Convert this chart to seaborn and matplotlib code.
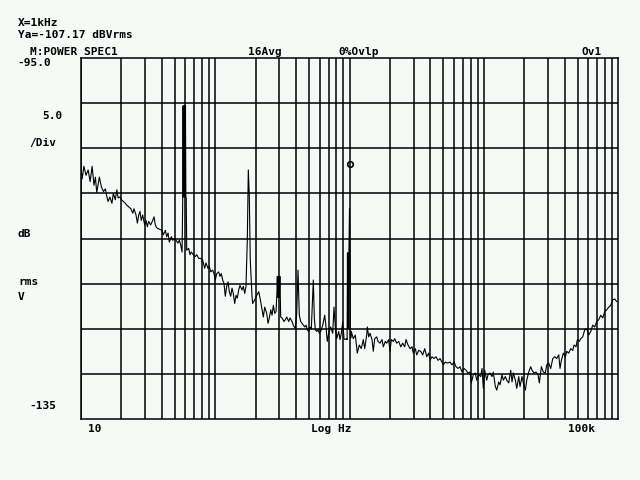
import numpy as np
import pandas as pd
import matplotlib
matplotlib.use('Agg')
import matplotlib.pyplot as plt
import seaborn as sns

# power spectrum trace (Hz, dBVrms)
freq_hz = [
    10.0, 10.2, 10.5, 10.9, 11.3, 11.7, 12.1, 12.5, 12.8, 13.1, 13.7, 14.2, 14.7, 15.2, 15.5, 15.9,
    16.4, 17.0, 17.4, 18.0, 18.5, 18.9, 19.5, 20.0, 20.7, 21.4, 21.9, 22.7, 23.5, 24.3, 24.8, 25.7,
    26.3, 26.9, 27.5, 28.1, 28.8, 29.8, 30.5, 31.2, 31.9, 33.0, 34.2, 35.0, 35.8, 36.6, 37.5, 38.8,
    40.1, 41.0, 42.5, 43.5, 44.5, 45.5, 47.1, 48.2, 49.9, 51.0, 52.8, 54.0, 55.3, 56.6,
    # 60 Hz line
    57.2, 57.6, 58.0, 58.4, 58.8, 59.2, 59.6, 60.0, 60.4, 60.8, 61.3,
    63.4, 64.9, 66.3, 68.6, 71.0, 72.8, 75.3, 77.9, 80.6, 83.4, 85.3, 88.3, 90.3, 92.5, 95.7, 97.9,
    100.1, 102.5, 106.1, 108.5, 110.9, 113.6, 116.2, 118.8, 121.7, 124.5, 127.3, 130.3, 133.3, 136.3,
    139.6, 142.8, 146.0, 149.5, 152.9, 158.2, 161.8, 165.7, 169.4,
    # 180 Hz line
    173.3, 176.3, 179.3, 182.4, 187.8,
    190.1, 196.8, 203.7, 210.8, 215.6, 223.1, 228.1, 233.6, 241.8, 247.2, 252.8, 259.0, 264.9, 270.8,
    277.4, 283.7,
    # 300 Hz line
    288.0, 290.0, 292.0, 294.0, 296.0, 298.0, 300.5, 303.0,
    307.2, 314.3, 325.3, 332.6, 340.7, 352.5, 360.5, 373.1, 381.4, 394.8, 404.4,
    413.5,
    422.8, 433.1, 442.9, 452.9, 463.9, 474.3, 485.1, 496.8, 508.1, 519.5,
    530.4, 537.7, 547.0,
    556.4, 569.9, 582.8, 596.0, 610.4, 631.7, 653.7, 668.3, 683.4, 699.9, 724.4, 749.7, 766.6, 784.0,
    803.0, 831.0, 849.8, 869.0, 890.1, 910.2, 930.7, 953.3,
    # 1 kHz line
    960.0, 966.0, 972.0, 978.0, 984.0, 990.0, 1000.0, 1008.0, 1015.0, 1022.0,
    1031, 1067, 1105, 1143, 1183, 1224, 1267, 1298, 1343, 1357, 1390, 1421, 1471, 1504, 1541, 1595,
    1631, 1688, 1746, 1786, 1848, 1893, 1959, 2003, 2048, 2120, 2171, 2247, 2326, 2407, 2491, 2578,
    2637, 2728, 2823, 2922, 2988, 3092, 3167, 3278, 3392, 3511, 3633, 3760, 3890, 3979, 4118, 4262,
    4411, 4564, 4723, 4888, 4998, 5172, 5353, 5607, 5802, 6004, 6214, 6430, 6654, 6886, 7129, 7379,
    7634, 7902, 8080, 8362, 8653, 8863, 9175, 9493, 9707, 9926, 10170, 10520, 10760, 11140, 11520,
    11780, 12200, 12500, 12930, 13220, 13690, 13990, 14480, 14830, 15350, 15880, 16240, 16610, 17190,
    17610, 18220, 18630, 19280, 19720, 20410, 20900, 21630, 22390, 22890, 23690, 24520, 25380, 25950,
    26860, 27790, 28760, 29450, 30480, 31550, 32650, 33790, 34980, 36190, 37010, 37850, 39160, 40530,
    41510, 42960, 44460, 46010, 47050, 48690, 49790, 51530, 52780, 54620, 56530, 58500, 60540, 62650,
    64840, 67100, 69440, 71870, 74370, 76970, 79650, 82430, 85310, 88290, 91370, 94560, 97860,
]
level_db = [
    -107.2, -108.4, -107.0, -108.0, -107.4, -108.7, -107.0, -109.1, -108.2, -109.9, -108.2, -109.3,
    -109.8, -109.5, -110.2, -110.9, -110.4, -111.1, -110.0, -110.7, -109.6, -110.5, -110.4, -110.7,
    -110.9, -111.1, -111.3, -111.5, -111.7, -112.2, -111.7, -112.4, -113.3, -112.4, -112.0, -113.0,
    -112.4, -113.5, -113.0, -113.7, -113.1, -113.5, -113.0, -112.6, -113.5, -113.8, -113.9, -114.0,
    -114.1, -114.6, -114.1, -114.8, -114.4, -115.4, -114.8, -115.2, -115.0, -115.2, -115.5, -115.2,
    -115.7, -116.5,
    -111.1, -100.3, -110.4, -100.3, -110.4, -100.3, -110.4, -100.3, -110.4, -110.5, -116.3,
    -116.1, -116.8, -116.5, -116.8, -117.0, -116.8, -117.2, -117.2, -117.4, -118.3, -117.7, -118.3,
    -118.1, -118.7, -118.5, -118.9,
    -119.6, -118.9, -118.7, -119.2, -118.9, -119.6, -120.0, -121.4, -120.3, -119.8, -120.9, -121.4,
    -120.5, -121.1, -122.2, -121.3, -121.6, -120.7, -120.2, -120.7, -120.3, -121.1, -120.3,
    -115.2, -107.4, -110.3, -117.4, -121.4,
    -122.2, -121.8, -121.3, -120.9, -121.6, -122.9, -123.7, -122.6, -123.3, -124.4, -123.8, -122.9,
    -123.5, -122.4, -123.3, -123.1,
    -121.0, -119.2, -121.5, -119.2, -121.5, -119.2, -121.5, -119.2,
    -123.7, -123.8, -124.2, -124.0, -123.7, -124.2, -123.8, -124.2, -124.6, -125.0, -123.3,
    -118.5,
    -123.5, -124.2, -124.4, -124.6, -124.8, -124.6, -125.1, -125.3, -124.8, -125.0,
    -121.8, -119.6, -123.8,
    -125.1, -125.3, -125.1, -125.5, -125.3, -124.6, -123.5, -124.8, -126.4, -125.5, -124.8, -125.5,
    -122.6, -124.8, -126.1, -125.3, -126.2, -125.5, -124.2, -126.1, -126.2, -126.1,
    -126.2, -116.6, -125.0, -116.6, -125.0, -116.6, -111.7, -116.6, -125.0, -126.0,
    -125.3, -126.1, -125.7, -127.7, -126.8, -127.2, -126.2, -127.2, -125.7, -124.8, -125.9, -125.5,
    -126.2, -127.5, -126.1, -125.9, -126.4, -126.6, -126.2, -127.0, -126.4, -126.6, -126.2, -127.5,
    -126.2, -126.4, -126.1, -126.6, -126.4, -127.0, -126.6, -127.0, -126.2, -126.8, -127.2, -127.0,
    -127.7, -127.2, -127.9, -127.4, -127.5, -127.9, -127.2, -128.1, -127.7, -128.5, -128.1, -128.3,
    -128.1, -128.5, -128.3, -128.7, -129.0, -128.7, -128.8, -128.7, -129.0, -128.7, -129.2, -129.4,
    -129.2, -129.8, -129.4, -129.6, -129.9, -129.8, -131.0, -130.1, -129.9, -130.7, -130.1, -130.3,
    -129.4, -131.6, -129.6, -130.7, -130.1, -129.9, -130.3, -129.8, -131.4, -131.8, -130.9, -131.2,
    -130.1, -130.7, -130.3, -130.7, -131.0, -129.6, -130.9, -129.9, -130.7, -131.6, -130.3, -131.4,
    -130.3, -131.0, -131.8, -130.7, -129.8, -129.2, -129.6, -129.9, -129.8, -130.1, -131.0, -129.2,
    -129.8, -129.9, -129.0, -128.8, -129.4, -128.3, -128.1, -128.3, -127.9, -129.4, -128.5, -127.7,
    -128.1, -127.5, -127.7, -127.2, -127.4, -126.8, -127.0, -126.2, -126.4, -126.1, -125.9, -125.1,
    -125.0, -125.7, -125.3, -124.6, -124.8, -124.2, -124.0, -123.5, -123.8, -123.1, -122.9, -122.6,
    -122.4, -121.8, -121.7, -122.0,
]
marker_hz = 1000
marker_db = -107.17

bg = '#f5faf6'
sns.set_style('white')
plt.rcParams['font.family'] = ['DejaVu Sans Mono']
plt.rcParams['font.weight'] = 'bold'

fig = plt.figure(figsize=(6.4, 4.8), dpi=100, facecolor=bg)
ax = fig.add_axes([81 / 640, 1 - 419 / 480, 537 / 640, 361 / 480])
ax.set_facecolor(bg)

df = pd.DataFrame({'f': freq_hz, 'db': level_db})
sns.lineplot(data=df, x='f', y='db', ax=ax, color='black', linewidth=0.8, estimator=None, sort=False)
ax.plot([marker_hz], [marker_db + 0.4], marker='o', ms=4, mfc='none', mec='black', mew=1.2)

ax.set_xscale('log')
ax.set_xlim(10, 1e5)
ax.set_ylim(-135, -95)

# instrument graticule: every 1..9 per decade, 5 dB per division
xgrid = [m * 10 ** d for d in range(1, 5) for m in range(1, 10)]
for xv in xgrid:
    ax.axvline(xv, color='black', lw=1.1, zorder=0)
for yv in np.arange(-130, -95, 5):
    ax.axhline(yv, color='black', lw=1.1, zorder=0)
for s in ax.spines.values():
    s.set_color('black')
    s.set_linewidth(1.1)
ax.set_xticks([])
ax.set_yticks([])
ax.minorticks_off()
ax.set_xlabel('')
ax.set_ylabel('')

labels = [
    (18, 23, 'X=1kHz'), (18, 35, 'Ya=-107.17 dBVrms'), (30, 52, 'M:POWER SPEC1'),
    (248, 52, '16Avg'), (338, 52, '0%Ovlp'), (581, 52, 'Ov1'),
    (17, 63, '-95.0'), (42, 116, '5.0'), (29, 143, '/Div'),
    (18, 234, 'dB'), (18, 282, 'rms'), (18, 297, 'V'), (29, 406, '-135'),
    (88, 429, '10'), (311, 429, 'Log Hz'), (568, 429, '100k'),
]
for px, py, txt in labels:
    fig.text(px / 640, 1 - py / 480, txt, fontsize=8, fontweight='bold', va='center', ha='left',
             color='black')

fig.savefig('out.png', dpi=100, facecolor=bg)
